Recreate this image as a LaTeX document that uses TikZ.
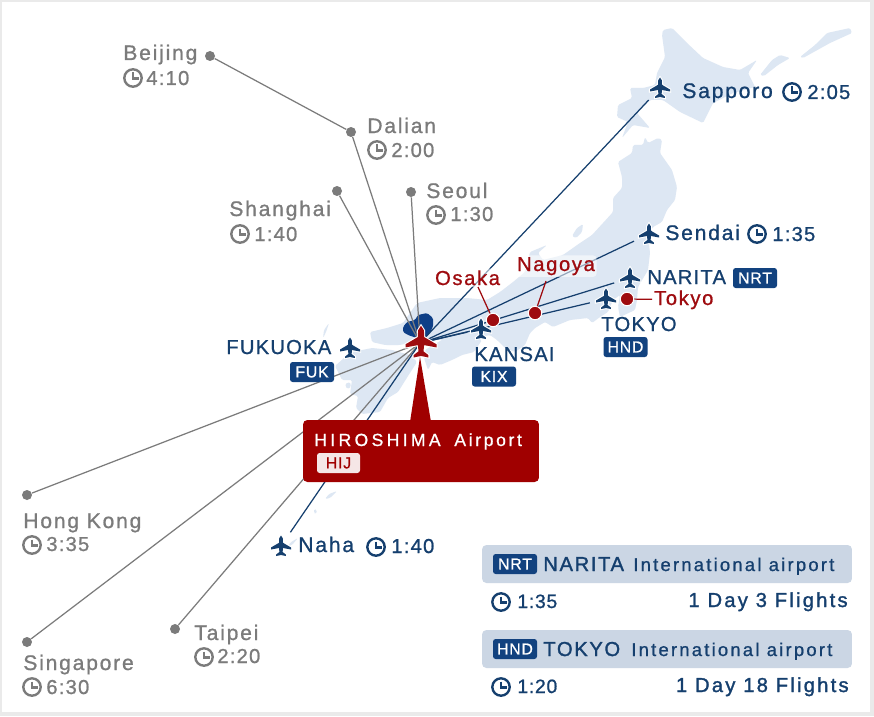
\documentclass[tikz,border=0pt]{standalone}
\usepackage{fontspec}
\setmainfont[LetterSpace=8,FakeBold=0.9]{Liberation Sans}
\definecolor{routenavy}{HTML}{153F6E}
\definecolor{tagnavy}{HTML}{12427F}
\definecolor{cityred}{HTML}{9E0B0F}
\definecolor{boxred}{HTML}{A00000}
\definecolor{cityghost}{HTML}{7B7B7B}
\definecolor{landblue}{HTML}{DDE7F3}
\definecolor{prefblue}{HTML}{0E3F87}
\definecolor{panelblue}{HTML}{CBD6E4}
\definecolor{edgegrey}{HTML}{EAEAEA}
\newcommand{\namefont}{\fontsize{12}{14}\selectfont\addfontfeature{LetterSpace=8.5}}
\newcommand{\capsfont}{\fontsize{11.5}{13}\selectfont\addfontfeature{LetterSpace=6}}
\newcommand{\timefont}{\fontsize{11.5}{13}\selectfont\addfontfeature{LetterSpace=6}}
\tikzset{
	land/.style={fill=landblue,rounded corners=0.8pt},
	labelgrey/.style={text=cityghost,anchor=base west,inner sep=0pt,font=\namefont},
	labelnavy/.style={text=routenavy,anchor=base west,inner sep=0pt,font=\namefont},
	labelcaps/.style={text=routenavy,anchor=base west,inner sep=0pt,font=\capsfont},
	timegrey/.style={text=cityghost,anchor=base west,inner sep=0pt,font=\timefont},
	timenavy/.style={text=routenavy,anchor=base west,inner sep=0pt,font=\timefont},
	labelred/.style={text=cityred,anchor=base west,inner sep=1pt,font=\fontsize{11.5}{13}\selectfont\addfontfeature{LetterSpace=8},fill=white,fill opacity=0.55,text opacity=1,rounded corners=2pt},
	tagbox/.style={fill=tagnavy,text=white,rounded corners=1.5pt,inner sep=0pt,minimum width=0.88cm,minimum height=0.4cm,font=\fontsize{9}{10}\selectfont\addfontfeature{LetterSpace=5}},
	panelbox/.style={fill=panelblue,rounded corners=2.5pt},
	panelname/.style={labelcaps,font=\fontsize{11.5}{13}\selectfont\addfontfeature{LetterSpace=8,FakeBold=1.4}},
	panelkind/.style={labelcaps,font=\fontsize{10.5}{12}\selectfont\addfontfeature{LetterSpace=12}},
	paneltime/.style={labelcaps,font=\fontsize{11}{13}\selectfont\addfontfeature{LetterSpace=4}},
	panelflights/.style={text=routenavy,anchor=base east,inner sep=0pt,font=\fontsize{11.5}{13}\selectfont\addfontfeature{LetterSpace=11,FakeBold=1.4}},
	greydot/.style={circle,fill=cityghost,minimum size=0.2cm,inner sep=0pt},
	reddot/.style={circle,fill=cityred,draw=white,line width=0.6pt,minimum size=0.27cm,inner sep=0pt},
	planespot/.style={circle,minimum size=0.65cm,inner sep=0pt},
	greyroute/.style={draw=cityghost,line width=0.7pt},
	navyroute/.style={draw=routenavy,line width=0.7pt},
	redlead/.style={draw=cityred,line width=0.7pt},
	pics/planeicon/.style={code={
		\path[fill=#1,preaction={draw=white,line width=1.2pt}]
			(0,-10.5)--(1.9,-7.5)--(2,-3.2)--(10,1.5)--(10,3.5)--(2,2)--(1.6,6)
			--(4.8,8.5)--(4.8,10)--(0,9)--(-4.8,10)--(-4.8,8.5)--(-1.6,6)
			--(-2,2)--(-10,3.5)--(-10,1.5)--(-2,-3.2)--(-1.9,-7.5)--cycle;
	}},
	pics/clockicon/.style={code={
		\draw[#1,line width=1.35pt] (0,0) circle (8.7);
		\draw[#1,line width=1.35pt] (0,-5.5)--(0,0.5)--(5.5,0.5);
	}}
}
\begin{document}
\begin{tikzpicture}[x=0.02cm,y=-0.02cm]
	\useasboundingbox (0,0) rectangle (874,716);
	\fill[edgegrey] (0,0) rectangle (874,716);
	\fill[white] (2,2) rectangle (870,712);
	% the islands
	\fill[land] (663,30)--(672,28)--(687,43)--(703,58)--(723,67)--(740,70)--(757,60)--(748,73)--(755,87)--(733,93)--(713,103)--(703,123)--(680,112)--(663,100)--(650,100)--(637,113)--(650,128)--(633,125)--(622,138)--(628,122)--(617,117)--(618,105)--(632,98)--(630,88)--(643,88)--(655,85)--(657,73)--(665,57)--(662,35)--cycle;
	\fill[land] (760,75)--(772,60)--(780,55)--(790,58)--(778,65)--(764,76)--cycle;
	\fill[land] (800,57)--(815,45)--(827,33)--(850,28)--(852,33)--(830,43)--(803,58)--cycle;
	\fill[land] (370,332)--(387,328)--(403,323)--(417,303)--(440,298)--(467,298)--(487,300)--(500,292)--(513,282)--(525,272)--(530,252)--(547,245)--(538,253)--(543,260)--(563,255)--(580,243)--(592,235)--(603,223)--(613,212)--(613,198)--(622,188)--(622,177)--(618,162)--(632,153)--(633,145)--(643,145)--(645,137)--(648,143)--(658,138)--(662,140)--(660,153)--(672,170)--(677,187)--(675,200)--(667,210)--(662,222)--(653,227)--(648,235)--(650,253)--(648,270)--(638,287)--(637,300)--(635,310)--(620,317)--(618,307)--(620,295)--(613,300)--(608,312)--(600,317)--(592,323)--(588,318)--(570,320)--(553,327)--(545,322)--(535,328)--(530,333)--(525,345)--(515,352)--(505,348)--(497,340)--(490,335)--(480,337)--(460,338)--(440,340)--(420,340)--(400,345)--(385,345)--(372,342)--cycle;
	\fill[land] (425,350)--(445,338)--(470,336)--(482,340)--(474,352)--(462,355)--(452,360)--(440,365)--(432,362)--(428,370)--(424,358)--cycle;
	\fill[land] (352,352)--(372,348)--(392,350)--(410,355)--(417,362)--(408,376)--(398,392)--(388,398)--(380,412)--(362,414)--(356,408)--(358,396)--(350,394)--(352,380)--(342,380)--(335,366)--(344,358)--cycle;
	\fill[land] (572,236)--(577,228)--(583,224)--(582,232)--(576,238)--cycle;
	\fill[land] (329,323)--(326,332)--(323,338)--(324,330)--cycle;
	\fill[land] (345,384)--(350,382)--(351,387)--(347,389)--cycle;
	\fill[land] (337,491)--(330,498)--(325,499)--(329,494)--cycle;
	\fill[land] (314,509)--(317,510)--(316,514)--(314,513)--cycle;
	\fill[land] (298,538)--(292,545)--(288,546)--(291,542)--cycle;
	\fill[prefblue,rounded corners=0.8pt] (403,327)--(407,322)--(415,320)--(418,315)--(427,313)--(433,318)--(433,327)--(427,337)--(417,338)--(408,335)--(403,332)--cycle;
	% the places
	\node[circle,minimum size=0.1cm,inner sep=0pt] (hiroshima) at (420,343) {};
	\node[greydot] (beijing) at (210,56) {};
	\node[greydot] (dalian) at (351,132) {};
	\node[greydot] (shanghai) at (337,191) {};
	\node[greydot] (seoul) at (411,192) {};
	\node[greydot] (hongkong) at (27,495) {};
	\node[greydot] (singapore) at (27,642) {};
	\node[greydot] (taipei) at (175,629) {};
	\node[planespot] (sapporo) at (660,88) {};
	\node[planespot] (sendai) at (649,234) {};
	\node[planespot] (narita) at (630,278) {};
	\node[planespot] (tokyo) at (606,299) {};
	\node[planespot,minimum size=0.55cm] (kansai) at (481,329) {};
	\node[planespot] (naha) at (281,546) {};
	\node[planespot] (fukuoka) at (350,348) {};
	% the routes
	\draw[greyroute] (beijing)--(dalian);
	\draw[greyroute] (dalian)--(hiroshima);
	\draw[greyroute] (shanghai)--(hiroshima);
	\draw[greyroute] (seoul)--(hiroshima);
	\draw[greyroute] (hongkong)--(hiroshima);
	\draw[greyroute] (singapore)--(hiroshima);
	\draw[greyroute] (taipei)--(hiroshima);
	\draw[navyroute] (sapporo)--(hiroshima);
	\draw[navyroute] (sendai)--(hiroshima);
	\draw[navyroute] (narita)--(hiroshima);
	\draw[navyroute] (tokyo)--(hiroshima);
	\draw[navyroute] (kansai)--(hiroshima);
	\draw[navyroute] (naha)--(hiroshima);
	% the planes
	\pic at (sapporo) {planeicon=routenavy};
	\pic at (sendai) {planeicon=routenavy};
	\pic at (narita) {planeicon=routenavy};
	\pic at (tokyo) {planeicon=routenavy};
	\pic at (kansai) {planeicon=routenavy};
	\pic at (naha) {planeicon=routenavy};
	\pic at (fukuoka) {planeicon=routenavy};
	\pic[scale=1.55] at (421,342) {planeicon=cityred};
	% big red box
	\coordinate (boxtip) at (420,357);
	\fill[boxred] (boxtip)--(410,422)--(431,422)--cycle;
	\node[fill=boxred,rounded corners=2.5pt,minimum width=4.72cm,minimum height=1.24cm,inner sep=0pt] (hijbox) at (421,451) {};
	\node[anchor=base west,inner sep=0pt,text=white,font=\fontsize{10}{11}\selectfont\addfontfeature{LetterSpace=19}] (hijname) at (314,446) {HIROSHIMA};
	\node[anchor=base west,inner sep=0pt,text=white,font=\fontsize{10}{11}\selectfont\addfontfeature{LetterSpace=15}] (hijairport) at (454,446) {Airport};
	\node[fill=white,fill opacity=0.9,text opacity=1,text=boxred,rounded corners=1.5pt,inner sep=0pt,minimum width=0.86cm,minimum height=0.4cm,font=\fontsize{9}{10}\selectfont\addfontfeature{LetterSpace=5}] (hijtag) at (338.5,463) {HIJ};
	% grey cities
	\node[labelgrey] (beijingname) at (123,60) {Beijing};
	\node[timegrey] (beijingtime) at (146,85) {4:10};
	\pic at (133,78) {clockicon=cityghost};
	\node[labelgrey] (dalianname) at (367,133) {Dalian};
	\node[timegrey] (daliantime) at (391,157) {2:00};
	\pic at (377,150) {clockicon=cityghost};
	\node[labelgrey] (seoulname) at (426,198) {Seoul};
	\node[timegrey] (seoultime) at (450,221) {1:30};
	\pic at (436,215) {clockicon=cityghost};
	\node[labelgrey] (shanghainame) at (229,216) {Shanghai};
	\node[timegrey] (shanghaitime) at (254,241) {1:40};
	\pic at (240,234) {clockicon=cityghost};
	\node[labelgrey] (hongkongname) at (23,528) {Hong Kong};
	\node[timegrey] (hongkongtime) at (46,551) {3:35};
	\pic at (32,545) {clockicon=cityghost};
	\node[labelgrey] (singaporename) at (23,670) {Singapore};
	\node[timegrey] (singaporetime) at (46,694) {6:30};
	\pic at (32,687) {clockicon=cityghost};
	\node[labelgrey] (taipeiname) at (194,640) {Taipei};
	\node[timegrey] (taipeitime) at (217,663) {2:20};
	\pic at (204,657) {clockicon=cityghost};
	% navy cities
	\node[labelnavy] (nahaname) at (298,552) {Naha};
	\node[timenavy] (nahatime) at (391,553) {1:40};
	\pic at (376,547) {clockicon=routenavy};
	\node[labelnavy] (sapporoname) at (682,98) {Sapporo};
	\node[timenavy] (sapporotime) at (807,99) {2:05};
	\pic at (792,92) {clockicon=routenavy};
	\node[labelnavy] (sendainame) at (665,240) {Sendai};
	\node[timenavy] (sendaitime) at (772,241) {1:35};
	\pic at (757,234) {clockicon=routenavy};
	\node[labelcaps] (naritaname) at (647,284) {NARITA};
	\node[tagbox] (narttag) at (755,278) {NRT};
	\node[labelcaps] (tokyoname) at (601,331) {TOKYO};
	\node[tagbox] (hndtag) at (625.5,347) {HND};
	\node[labelcaps] (kansainame) at (474,361) {KANSAI};
	\node[tagbox] (kixtag) at (494,376.5) {KIX};
	\node[labelcaps] (fukuokaname) at (226,354) {FUKUOKA};
	\node[tagbox] (fuktag) at (312,372) {FUK};
	% red cities
	\node[labelred] (osakaname) at (433,285) {Osaka};
	\node[labelred] (nagoyaname) at (515,271) {Nagoya};
	\node[labelred,fill opacity=0] (tokyocity) at (652,305) {Tokyo};
	\node[reddot] (osakadot) at (493,320) {};
	\node[reddot] (nagoyadot) at (535,313) {};
	\node[reddot] (tokyodot) at (627,299) {};
	\coordinate (osakafoot) at (478,287);
	\coordinate (nagoyafoot) at (546,281);
	\draw[redlead] (osakafoot)--(osakadot);
	\draw[redlead] (nagoyafoot)--(nagoyadot);
	\draw[redlead] (tokyodot)--(tokyocity);
	% the two panels
	\node[panelbox,minimum width=7.4cm,minimum height=0.76cm,inner sep=0pt] (naritapanel) at (667,564) {};
	\node[tagbox] (nrtpaneltag) at (515,564) {NRT};
	\node[panelname] (naritapanelname) at (543,571) {NARITA};
	\node[panelkind] (naritapanelkind) at (633,571) {International airport};
	\pic at (501,602) {clockicon=routenavy};
	\node[paneltime] (naritapaneltime) at (517,608) {1:35};
	\node[panelflights] (naritaflights) at (848,607) {1 Day 3 Flights};
	\node[panelbox,minimum width=7.4cm,minimum height=0.76cm,inner sep=0pt] (tokyopanel) at (667,649) {};
	\node[tagbox] (hndpaneltag) at (515,649) {HND};
	\node[panelname] (tokyopanelname) at (543,656) {TOKYO};
	\node[panelkind] (tokyopanelkind) at (631,656) {International airport};
	\pic at (501,687) {clockicon=routenavy};
	\node[paneltime] (tokyopaneltime) at (517,693) {1:20};
	\node[panelflights] (tokyoflights) at (849,692) {1 Day 18 Flights};
\end{tikzpicture}
\end{document}
